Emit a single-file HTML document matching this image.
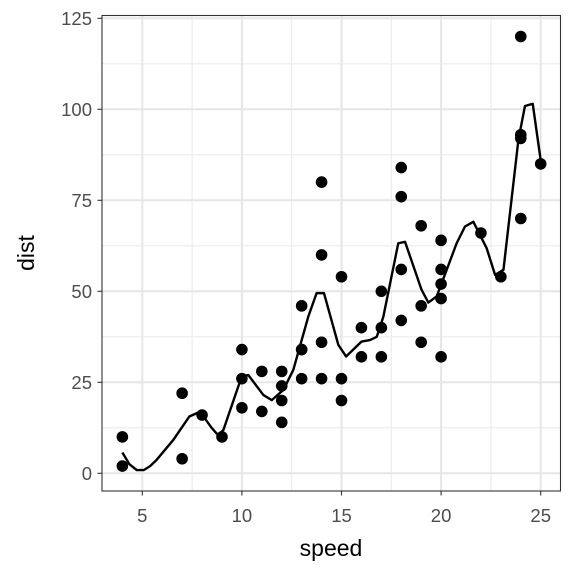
<!DOCTYPE html>
<html><head><meta charset="utf-8"><style>
body{margin:0;background:#fff;}
svg{display:block;font-family:"Liberation Sans",Arial,sans-serif;}
</style></head><body>
<svg id="chart" width="576" height="576">
<rect x="0" y="0" width="576" height="576" fill="#fff"/>
<g id="grid"></g>
<g id="marks"></g>
<rect x="102" y="15.5" width="458.5" height="475.5" fill="none" stroke="#333" stroke-width="1.1"/>
<g id="axes"></g>
<text x="331" y="556" font-size="23" text-anchor="middle" fill="#000">speed</text>
<text transform="translate(34,253) rotate(-90)" font-size="23" text-anchor="middle" fill="#000">dist</text>
</svg>
<script>
const speed=[4,4,7,7,8,9,10,10,10,11,11,12,12,12,12,13,13,13,13,14,14,14,14,15,15,15,16,16,17,17,17,18,18,18,18,19,19,19,20,20,20,20,20,22,23,24,24,24,24,25];
const dist=[2,10,4,22,16,10,18,26,34,17,28,14,20,24,28,26,34,34,46,26,36,60,80,20,26,54,32,40,32,40,50,42,56,76,84,36,46,68,32,48,52,56,64,66,54,70,92,93,120,85];
const smoothX=[4,4.35,4.72,5.08,5.4,5.72,6.56,7.36,7.9,8.48,8.8,9.07,9.99,10.32,11.08,11.5,12.08,12.58,13.33,13.75,14.12,14.84,15.23,16.01,16.43,16.77,17.1,17.85,18.19,19.02,19.36,19.78,20.78,21.2,21.62,22.29,22.71,23.13,23.88,24.21,24.6,25];
const smoothY=[5.7,2.5,0.9,0.9,2,3.7,9.2,15.6,16.9,12.5,10.5,11.9,26.6,27,21.5,20.1,22.9,28.4,43,49.5,49.5,35.3,32.1,36.2,36.6,37.5,43,63.2,63.6,50.4,46.9,48.6,63.2,67.8,69.1,61.8,54.5,55.9,91.6,100.9,101.5,86];
const xTicks=[5,10,15,20,25];
const yTicks=[0,25,50,75,100,125];
const xMinor=[7.5,12.5,17.5,22.5];
const yMinor=[12.5,37.5,62.5,87.5,112.5];
const NS="http://www.w3.org/2000/svg";
const X=v=>142.3+(v-5)*(540.7-142.3)/20;
const Y=v=>473.3-v*(473.3-18.3)/125;
function mk(tag,attrs,parent){const e=document.createElementNS(NS,tag);for(const k in attrs)e.setAttribute(k,attrs[k]);parent.appendChild(e);return e;}
const grid=document.getElementById('grid'),marks=document.getElementById('marks'),axes=document.getElementById('axes');
xMinor.forEach(v=>{const l=mk('line',{x1:X(v),x2:X(v),y1:15.5,y2:491,stroke:'#ebebeb','stroke-width':1.1},grid);

});
yMinor.forEach(v=>{const l=mk('line',{x1:102,x2:560.5,y1:Y(v),y2:Y(v),stroke:'#ebebeb','stroke-width':1.1},grid);

});
xTicks.forEach(v=>{const l=mk('line',{x1:X(v),x2:X(v),y1:15.5,y2:491,stroke:'#e6e6e6','stroke-width':2},grid);


const t=mk('line',{x1:X(v),x2:X(v),y1:491,y2:495.5,stroke:'#333','stroke-width':1.1},axes);


const tx=mk('text',{x:X(v),y:522,'font-size':18.5,'text-anchor':'middle',fill:'#4d4d4d'},axes);tx.textContent=v;

});
yTicks.forEach(v=>{const l=mk('line',{x1:102,x2:560.5,y1:Y(v),y2:Y(v),stroke:'#e6e6e6','stroke-width':2},grid);


const t=mk('line',{x1:97.5,x2:102,y1:Y(v),y2:Y(v),stroke:'#333','stroke-width':1.1},axes);


const tx=mk('text',{x:92,y:Y(v)+6.5,'font-size':18.5,'text-anchor':'end',fill:'#4d4d4d'},axes);tx.textContent=v;

});
speed.forEach((s,i)=>{const c=mk('circle',{cx:X(s),cy:Y(dist[i]),r:5.8,fill:'#000'},marks);

});
const p=mk('polyline',{points:smoothX.map((x,i)=>X(x)+','+Y(smoothY[i])).join(' '),fill:'none',stroke:'#000','stroke-width':2.4,'stroke-linejoin':'round'},marks);


</script>
</body></html>
